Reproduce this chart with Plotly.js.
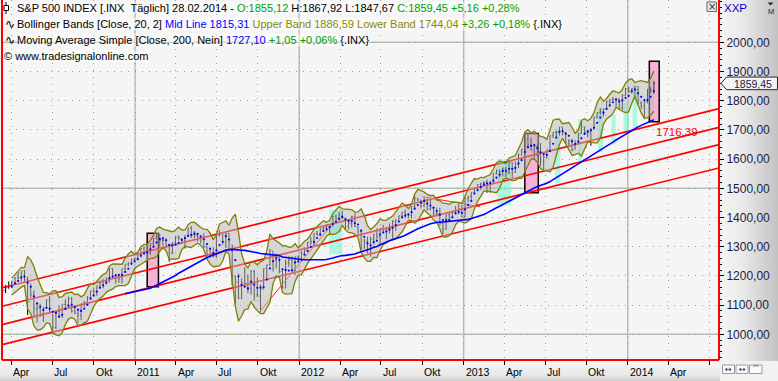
<!DOCTYPE html>
<html><head><meta charset="utf-8">
<script src="https://cdn.plot.ly/plotly-3.0.1.min.js"></script>
<style>
html,body{margin:0;padding:0;width:778px;height:381px;overflow:hidden;background:#f5f5f5;}
#rp{position:absolute;left:720px;top:0;width:58px;height:361px;background:linear-gradient(to right,#f3f3f3 0%,#ececec 35%,#c2c2c2 100%);}
#bp{position:absolute;left:0;top:361px;width:720px;height:20px;background:linear-gradient(to bottom,#f6f6f6 0%,#e8e8e8 70%,#cdcdcd 100%);}
#cp{position:absolute;left:720px;top:361px;width:58px;height:20px;background:#f2f2f2;}
#chart{position:absolute;left:0;top:0;width:778px;height:381px;}
</style></head><body>
<div id="rp"></div><div id="bp"></div><div id="cp"></div><div id="chart"></div>
<script>
// ---- data (weekly bars, first bar Friday 12 Mar 2010) ----
const firstWeek = '2010-03-12';
const closes = [
1149.99,1159.90,1166.59,1178.10,1194.37,1192.13,1217.28,1186.69,1110.88,1135.68,1087.69,1089.41,1064.88,1091.60,1117.51,1076.76,1022.58,1077.96,1064.88,1102.66,1101.60,1121.64,1079.25,1071.69,1064.59,1104.51,1109.55,1125.59,1148.67,1146.24,1165.15,1176.19,1183.08,1183.26,1225.85,1199.21,1199.73,1189.40,1224.71,1240.40,1243.91,1256.77,1257.64,
1271.50,1293.24,1283.35,1276.34,1310.87,1329.15,1343.01,1319.88,1321.15,1304.28,1279.21,1313.80,1332.41,1328.17,1319.68,1337.38,1363.61,1340.20,1337.77,1333.27,1331.10,1300.16,1270.98,1271.50,1268.45,1339.67,1343.80,1316.14,1345.02,1292.28,1199.38,1178.81,1123.53,1176.80,1173.97,1154.23,1216.01,1136.43,1131.42,1155.46,1224.58,1238.25,1285.09,1253.23,1263.85,1215.65,1158.67,1244.28,1255.19,1219.66,1265.33,1257.60,
1277.81,1289.09,1315.38,1316.33,1344.90,1342.64,1361.23,1365.74,1369.63,1370.87,1404.17,1397.11,1408.47,1398.08,1370.26,1378.53,1403.36,1369.10,1353.39,1295.22,1317.82,1278.04,1325.66,1342.84,1335.02,1362.16,1354.68,1356.78,1362.66,1385.97,1390.99,1405.87,1418.16,1411.13,1406.58,1437.92,1465.77,1460.15,1440.67,1460.93,1428.59,1433.19,1411.94,1414.20,1379.85,1359.88,1409.15,1416.18,1418.07,1413.58,1430.15,1402.43,
1466.47,1472.05,1485.98,1502.96,1513.17,1517.93,1519.79,1515.60,1518.20,1551.18,1560.70,1556.89,1569.19,1553.28,1588.85,1555.25,1582.24,1614.42,1633.70,1667.47,1649.60,1630.74,1643.38,1626.73,1592.43,1606.28,1631.89,1680.19,1692.09,1691.65,1709.67,1691.42,1655.83,1663.50,1632.97,1655.17,1687.99,1709.91,1691.75,1690.50,1703.20,1744.50,1759.77,1761.64,1770.61,1798.18,1804.76,1805.81,1805.09,1775.32,1818.32,1841.40,
1831.37,1842.37,1838.70,1790.29,1782.59,1797.02,1838.63,1836.25,1859.45];
const highs = [
1151,1169,1181,1181,1195,1214,1217,1220,1197,1174,1150,1106,1105,1093,1119,1131,1071,1079,1099,1103,1120,1129,1128,1100,1081,1105,1115,1131,1149,1158,1167,1184,1190,1196,1227,1226,1204,1200,1225,1241,1247,1259,1262,
1278,1294,1303,1302,1311,1330,1344,1343,1332,1330,1304,1315,1337,1339,1329,1339,1364,1371,1354,1346,1333,1346,1301,1292,1298,1341,1356,1344,1347,1346,1308,1200,1208,1191,1230,1205,1220,1220,1195,1171,1225,1238,1293,1284,1277,1265,1219,1255,1267,1267,1265,1270,
1285,1297,1316,1334,1345,1355,1362,1368,1378,1374,1406,1409,1419,1422,1398,1392,1406,1415,1368,1358,1328,1334,1335,1343,1363,1363,1375,1365,1380,1391,1394,1406,1419,1427,1413,1438,1475,1466,1460,1471,1465,1464,1434,1434,1434,1389,1410,1419,1423,1439,1448,1443,
1468,1473,1486,1503,1514,1519,1525,1530,1525,1552,1564,1564,1570,1574,1597,1589,1592,1619,1634,1667,1688,1674,1646,1650,1655,1620,1632,1680,1693,1698,1710,1709,1693,1669,1670,1665,1689,1730,1711,1701,1706,1745,1760,1775,1774,1799,1804,1813,1810,1809,1823,1844,
1849,1843,1851,1850,1799,1798,1841,1847,1868];
const lows = [
1135,1141,1156,1161,1175,1188,1181,1181,1066,1126,1056,1040,1060,1042,1087,1071,1011,1018,1063,1056,1088,1100,1074,1069,1040,1048,1092,1108,1122,1131,1132,1160,1158,1171,1177,1194,1173,1176,1174,1219,1232,1242,1252,
1257,1263,1275,1275,1273,1303,1325,1294,1302,1294,1249,1274,1307,1321,1309,1294,1334,1330,1329,1318,1311,1296,1268,1262,1263,1262,1334,1307,1295,1283,1168,1101,1120,1121,1172,1140,1136,1115,1128,1075,1155,1191,1234,1215,1226,1209,1158,1158,1231,1209,1203,1248,
1258,1275,1290,1306,1300,1337,1340,1356,1354,1340,1370,1386,1389,1394,1357,1358,1366,1368,1343,1291,1295,1277,1266,1307,1324,1309,1349,1326,1345,1329,1354,1391,1400,1398,1397,1397,1429,1455,1431,1435,1425,1425,1403,1407,1373,1343,1359,1385,1398,1411,1411,1401,
1402,1451,1461,1485,1496,1495,1508,1485,1485,1514,1547,1538,1541,1539,1548,1536,1553,1570,1612,1625,1636,1630,1598,1607,1578,1560,1601,1624,1672,1676,1681,1681,1655,1640,1627,1634,1655,1687,1687,1674,1646,1700,1739,1752,1746,1768,1781,1800,1779,1772,1767,1818,
1827,1823,1815,1790,1771,1738,1791,1826,1824];

const xRange = ['2010-03-11', '2014-07-23'];
const yRange = [912, 2145];
const yTickVals = [1000, 1100, 1200, 1300, 1400, 1500, 1600, 1700, 1800, 1900, 2000];
const channelStart = [1159.2, 1095.9, 1033.2, 964.7];
const channelEnd = [1773.0, 1708.9, 1649.7, 1569.5];
const trendStartDates = ['2011-10-04', '2012-10-03'];
const trendEndDates = ['2012-03-10', '2013-02-07'];
const trendStartVals = [1074.8, 1471];
const trendEndVals = [1368.5, 1437];
const pinkStart = ['2011-01-28', '2013-05-17', '2014-02-18'];
const pinkEnd = ['2011-02-22', '2013-06-16', '2014-03-12'];
const pinkLow = [1163, 1485, 1728];
const pinkHigh = [1346, 1688, 1935];
const cyanStart = ['2012-03-08','2013-03-17','2013-07-23','2013-09-13','2013-10-27','2013-11-26','2013-12-23','2014-01-12','2014-02-23'];
const cyanEnd = ['2012-04-06','2013-04-16','2013-08-04','2013-09-20','2013-11-07','2013-12-05','2014-01-03','2014-01-22','2014-03-12'];
const cyanLow = [1274,1443,1517,1594,1625,1651,1688,1702,1734];
const cyanHigh = [1426,1599,1705,1736,1774,1751,1791,1854,1894];
const xTickDates = ['2010-04-01','2010-07-01','2010-10-01','2011-01-01','2011-04-01','2011-07-01','2011-10-01','2012-01-01','2012-04-01','2012-07-01','2012-10-01','2013-01-01','2013-04-01','2013-07-01','2013-10-01','2014-01-01','2014-04-01'];
const xTickLabels = ['Apr','Jul','Okt','2011','Apr','Jul','Okt','2012','Apr','Jul','Okt','2013','Apr','Jul','Okt','2014','Apr'];
const yearLines = ['2011-01-01','2012-01-01','2013-01-01','2014-01-01'];
const solidLevels = [1000, 1500, 2000];
const lastPriceLabel = '1859,45';
const channelLabel = '1716,39';
const bbPeriodWeeks = 4, bbDev = 2, smaWeeks = 40;

// ---- derived ----
const dates = closes.map((_, i) => { const d = new Date(firstWeek + 'T00:00:00Z'); d.setUTCDate(d.getUTCDate() + 7 * i); return d.toISOString().slice(0, 10); });
const opens = closes.map((c, i) => i === 0 ? c : closes[i - 1]);
const mean = a => a.reduce((s, v) => s + v, 0) / a.length;
const bbX = [], bbMid = [], bbUp = [], bbLo = [];
for (let i = bbPeriodWeeks - 1; i < closes.length; i++) {
  const c = closes.slice(i - bbPeriodWeeks + 1, i + 1);
  const pool = c.concat(highs.slice(i - bbPeriodWeeks + 1, i + 1), lows.slice(i - bbPeriodWeeks + 1, i + 1));
  const m = mean(pool), mid = mean(c);
  const sd = Math.sqrt(mean(pool.map(v => (v - m) * (v - m))));
  bbX.push(dates[i]); bbMid.push(mid); bbUp.push(mid + bbDev * sd); bbLo.push(mid - bbDev * sd);
}
const smaX = [], sma = [];
for (let i = smaWeeks - 1; i < closes.length; i++) { smaX.push(dates[i]); sma.push(mean(closes.slice(i - smaWeeks + 1, i + 1))); }

const traces = [];
channelStart.forEach((v, k) => traces.push({x: xRange, y: [v, channelEnd[k]], mode: 'lines', line: {color: '#ff0000', width: 1.6}, hoverinfo: 'skip'}));
trendStartDates.forEach((d, k) => traces.push({x: [d, trendEndDates[k]], y: [trendStartVals[k], trendEndVals[k]], mode: 'lines', line: {color: '#ff2020', width: 1}, hoverinfo: 'skip'}));
traces.push({type: 'ohlc', x: dates, open: opens, high: highs, low: lows, close: closes,
  increasing: {line: {color: '#000000', width: 1}}, decreasing: {line: {color: '#000000', width: 1}}, tickwidth: 0.3, hoverinfo: 'skip'});
traces.push({x: bbX, y: bbLo, mode: 'lines', line: {color: '#808000', width: 1.3}, hoverinfo: 'skip'});
traces.push({x: bbX, y: bbUp, mode: 'lines', fill: 'tonexty', fillcolor: 'rgba(188,188,188,0.52)', line: {color: '#808000', width: 1.3}, hoverinfo: 'skip'});
traces.push({x: smaX, y: sma, mode: 'lines', line: {color: '#0000ff', width: 1.6}, hoverinfo: 'skip'});
traces.push({x: bbX, y: bbMid, mode: 'markers', marker: {color: '#0000ff', size: 2.2}, hoverinfo: 'skip'});

const PL = 2, PW = 717, PH = 360;
const px = x => (x - PL) / PW, py = y => 1 - y / PH;
const yPix = v => (yRange[1] - v) / (yRange[1] - yRange[0]) * PH;

const shapes = [];
yearLines.forEach(d => shapes.push({type: 'line', xref: 'x', yref: 'paper', x0: d, x1: d, y0: 0, y1: 1, line: {color: '#b4c2b4', width: 1.5}, layer: 'below'}));
solidLevels.forEach(v => shapes.push({type: 'line', xref: 'paper', yref: 'y', x0: 0, x1: 1, y0: v, y1: v, line: {color: '#b4c2b4', width: 1.5}, layer: 'below'}));
cyanStart.forEach((d, k) => shapes.push({type: 'rect', xref: 'x', yref: 'y', x0: d, x1: cyanEnd[k], y0: cyanLow[k], y1: cyanHigh[k], fillcolor: 'rgba(110,250,205,0.56)', line: {width: 0}, layer: 'between'}));
pinkStart.forEach((d, k) => shapes.push({type: 'rect', xref: 'x', yref: 'y', x0: d, x1: pinkEnd[k], y0: pinkLow[k], y1: pinkHigh[k], fillcolor: '#f6b2d4', line: {color: '#000000', width: 1.5}, layer: 'between'}));
// plot frame
shapes.push({type: 'line', xref: 'paper', yref: 'paper', x0: 0, x1: 0, y0: 0, y1: 1, line: {color: '#ff0000', width: 2}});
shapes.push({type: 'line', xref: 'paper', yref: 'paper', x0: 1, x1: 1, y0: 0, y1: 1, line: {color: '#ff0000', width: 2}});
shapes.push({type: 'line', xref: 'paper', yref: 'paper', x0: 0, x1: 1, y0: 0, y1: 0, line: {color: '#ff0000', width: 2}});
// close box
shapes.push({type: 'rect', xref: 'paper', yref: 'paper', x0: px(707), x1: px(716.5), y0: py(2), y1: py(11.5), fillcolor: '#e6e6e6', line: {color: '#6a6a6a', width: 1}});
// legend icon (bar symbol)
shapes.push({type: 'line', xref: 'paper', yref: 'paper', x0: px(6), x1: px(6), y0: py(2), y1: py(14), line: {color: '#000', width: 1}});
shapes.push({type: 'rect', xref: 'paper', yref: 'paper', x0: px(4), x1: px(8.5), y0: py(5.5), y1: py(10.5), fillcolor: '#ffffff', line: {color: '#000', width: 1}});
// price marker box
const lp = yPix(closes[closes.length - 1]);
shapes.push({type: 'path', xref: 'paper', yref: 'paper',
  path: `M ${px(721)} ${py(lp)} L ${px(726.5)} ${py(lp - 6.3)} L ${px(777.5)} ${py(lp - 6.3)} L ${px(777.5)} ${py(lp + 6.3)} L ${px(726.5)} ${py(lp + 6.3)} Z`,
  fillcolor: '#f2f2f2', line: {color: '#2a2a2a', width: 1}});
// bottom-right buttons
[[722.5, 734.5], [736, 748], [749.5, 762]].forEach(b => shapes.push({type: 'rect', xref: 'paper', yref: 'paper', x0: px(b[0]), x1: px(b[1]), y0: py(365), y1: py(373.5), fillcolor: '#fafafa', line: {color: '#9a9a9a', width: 1}}));
// small dropdown triangle (right panel)
shapes.push({type: 'path', xref: 'paper', yref: 'paper', path: `M ${px(767.5)} ${py(2.5)} L ${px(773.5)} ${py(2.5)} L ${px(770.5)} ${py(5.5)} Z`, fillcolor: '#222', line: {width: 0}});

const F = 'Liberation Sans, Arial, sans-serif';
const ann = [];
const leg = (x, y, text) => ann.push({xref: 'paper', yref: 'paper', x: px(x), y: py(y), xanchor: 'left', yanchor: 'middle', text, showarrow: false,
  font: {family: F, size: 11, color: '#000'}, bgcolor: 'rgba(255,255,255,0.45)', borderpad: 0});
const G = '#00a000';
leg(16, 8, 'S&amp;P 500 INDEX [.INX\u00a0\u00a0Täglich] 28.02.2014 - <span style="color:' + G + '">O:1855,12</span> H:1867,92 L:1847,67 <span style="color:' + G + '">C:1859,45 +5,16 +0,28%</span>');
leg(16, 24, 'Bollinger Bands [Close, 20, 2] <span style="color:#0000ff">Mid Line 1815,31</span> <span style="color:#8a8a00">Upper Band 1886,59 Lower Band 1744,04</span> <span style="color:' + G + '">+3,26 +0,18%</span> {.INX}');
leg(16, 40, 'Moving Average Simple [Close, 200, Nein] <span style="color:#0000ff">1727,10</span> <span style="color:' + G + '">+1,05 +0,06%</span> {.INX}');
leg(2.5, 56, '© www.tradesignalonline.com');
[24, 40].forEach(y => ann.push({xref: 'paper', yref: 'paper', x: px(3), y: py(y), xanchor: 'left', yanchor: 'middle', text: '\u223f', showarrow: false, font: {family: 'DejaVu Sans', size: 12, color: '#000'}}));
// x tick labels
xTickDates.forEach((d, k) => ann.push({xref: 'x', yref: 'paper', x: d, y: py(371.7), xanchor: 'left', yanchor: 'middle', xshift: 0, text: xTickLabels[k], showarrow: false, font: {family: F, size: 10.5, color: '#000'}}));
// right panel texts
ann.push({xref: 'paper', yref: 'paper', x: px(722), y: py(7.5), xanchor: 'left', yanchor: 'middle', text: 'XXP', showarrow: false, font: {family: F, size: 11.5, color: '#0000cc'}});
ann.push({xref: 'paper', yref: 'paper', x: px(770.5), y: py(12), xanchor: 'center', yanchor: 'middle', text: 'M', showarrow: false, font: {family: F, size: 7.5, color: '#222'}});
ann.push({xref: 'paper', yref: 'paper', x: px(711.8), y: py(6.6), xanchor: 'center', yanchor: 'middle', text: '×', showarrow: false, font: {family: 'DejaVu Sans', size: 10, color: '#333'}});
ann.push({xref: 'paper', yref: 'paper', x: px(752.5), y: py(lp + 1), xanchor: 'center', yanchor: 'middle', text: lastPriceLabel, showarrow: false, font: {family: F, size: 10.5, color: '#1c1c40'}, borderpad: 0});
['↔', '↔', '⌒'].forEach((t, k) => ann.push({xref: 'paper', yref: 'paper', x: px([728.5, 742, 755.7][k]), y: py(369.3), xanchor: 'center', yanchor: 'middle', text: t, showarrow: false, font: {family: 'DejaVu Sans', size: 8, color: '#222'}}));
// channel label at last bar
const t0 = Date.parse(xRange[0]), t1 = Date.parse(xRange[1]), tl = Date.parse(dates[dates.length - 1]);
const chVal = channelStart[0] + (channelEnd[0] - channelStart[0]) * (tl - t0) / (t1 - t0);
ann.push({xref: 'x', yref: 'y', x: dates[dates.length - 1], y: chVal, xanchor: 'left', yanchor: 'middle', yshift: -7, text: channelLabel, showarrow: false, font: {family: F, size: 11.5, color: '#ff0000'}});

const layout = {
  width: 778, height: 381, margin: {l: PL, r: 59, t: 0, b: 21},
  paper_bgcolor: 'rgba(0,0,0,0)', plot_bgcolor: '#f5f5f5', showlegend: false, separators: ',.',
  xaxis: {type: 'date', range: xRange, rangeslider: {visible: false}, showticklabels: false,
    tick0: '2010-01-01', dtick: 'M3', ticks: 'outside', ticklen: 4, tickcolor: '#000', tickwidth: 1,
    showgrid: true, gridcolor: '#9c9c9c', griddash: '1px,6px', gridwidth: 1, zeroline: false, showline: false, fixedrange: true},
  yaxis: {side: 'right', range: yRange, tickmode: 'array', tickvals: yTickVals, tickformat: '.2f', ticks: 'outside', ticklen: 4, tickcolor: '#000',
    tickfont: {family: F, size: 12, color: '#1c1c48'}, showgrid: true, gridcolor: '#9c9c9c', griddash: '1px,6px', gridwidth: 1,
    minor: {tickmode: 'linear', tick0: 0, dtick: 20, ticks: 'outside', ticklen: 2, tickcolor: '#000', showgrid: false}, zeroline: false, showline: false, fixedrange: true},
  shapes, annotations: ann
};
Plotly.newPlot('chart', traces, layout, {displayModeBar: false, staticPlot: true});
</script></body></html>
